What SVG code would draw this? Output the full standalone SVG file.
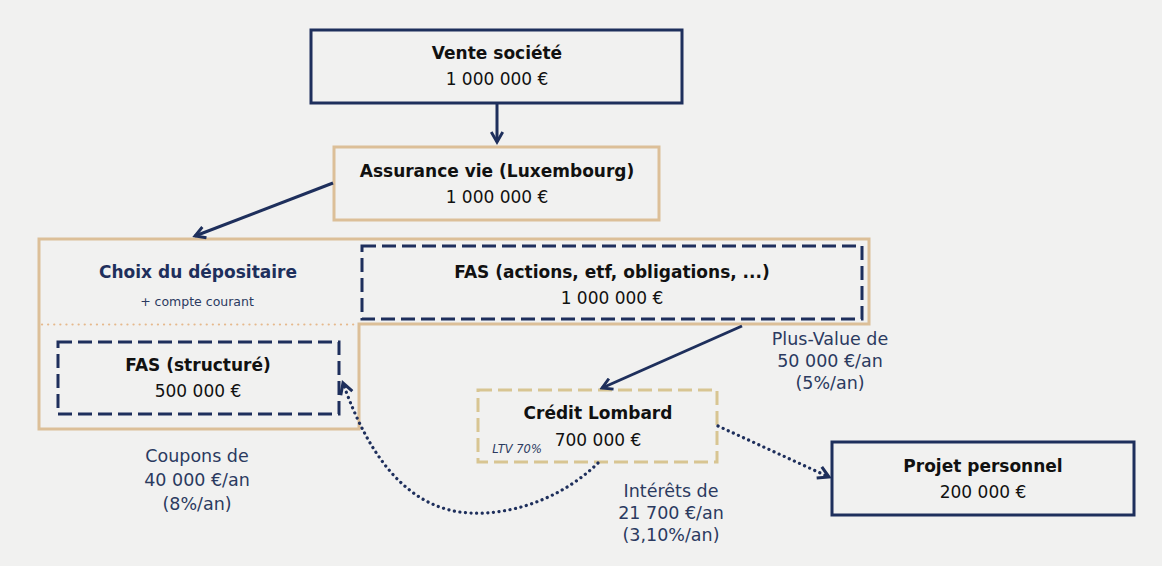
<svg xmlns="http://www.w3.org/2000/svg" width="1162" height="566" viewBox="0 0 1162 566">
<defs>
<style>
.bg{fill:#f1f1f0}
.navy{fill:none;stroke:#1e2f5c;stroke-width:3}
.tan{fill:none;stroke:#dcbf98;stroke-width:3}
.navydash{fill:none;stroke:#1e2f5c;stroke-width:3;stroke-dasharray:14 6}
.golddash{fill:none;stroke:#d8c592;stroke-width:3;stroke-dasharray:14 6}
.t{font-family:"DejaVu Sans","Noto Sans","Liberation Sans",sans-serif;text-anchor:middle}
.b{font-weight:700;font-size:17px;fill:#111}
.v{font-size:17px;fill:#111}
.lab{font-size:17.5px;fill:#2b3a60}
.conn{fill:none;stroke:#1e2f5c;stroke-width:3}
.dot{fill:none;stroke:#1e2f5c;stroke-width:3.2;stroke-dasharray:0.1 5.5;stroke-linecap:round}
</style>
<marker id="arr" viewBox="0 0 10 10" refX="8" refY="5" markerWidth="4.8" markerHeight="4.8" orient="auto" markerUnits="strokeWidth">
<path d="M1,1 L8,5 L1,9" fill="none" stroke="#1e2f5c" stroke-width="2"/>
</marker>
</defs>
<rect class="bg" x="0" y="0" width="1162" height="566"/>

<g id="depositaire">
<path class="tan" d="M39,239 H869 V324 H359 V429 H39 Z"/>
<line x1="42" y1="324.5" x2="354" y2="324.5" stroke="#e6b98c" stroke-width="2.2" stroke-dasharray="0.1 6" stroke-linecap="round"/>
<text class="t" x="198" y="278" font-weight="700" font-size="17" fill="#1e2f5c">Choix du dépositaire</text>
<text class="t" x="197" y="306" font-size="12.5" fill="#2b3a60">+ compte courant</text>
</g>

<g id="vente">
<rect class="navy" x="311" y="30" width="371" height="73"/>
<text class="t b" x="497" y="59">Vente société</text>
<text class="t v" x="497" y="85">1 000 000 €</text>
</g>

<g id="assurance">
<rect class="tan" x="334" y="147" width="325" height="73"/>
<text class="t b" x="497" y="177">Assurance vie (Luxembourg)</text>
<text class="t v" x="497" y="203">1 000 000 €</text>
</g>

<g id="fas-actions">
<rect class="navydash" x="362" y="246" width="500" height="73"/>
<text class="t b" x="612" y="278">FAS (actions, etf, obligations, ...)</text>
<text class="t v" x="612" y="304">1 000 000 €</text>
</g>

<g id="fas-structure">
<rect class="navydash" x="58" y="342" width="281" height="72"/>
<text class="t b" x="198" y="371">FAS (structuré)</text>
<text class="t v" x="198" y="397">500 000 €</text>
</g>

<g id="credit-lombard">
<rect class="golddash" x="478" y="390" width="239" height="72"/>
<text class="t b" x="598" y="419">Crédit Lombard</text>
<text class="t v" x="598" y="446">700 000 €</text>
<text class="t" x="517" y="453" font-size="11.5" font-style="italic" fill="#2b3a60">LTV 70%</text>
</g>

<g id="projet">
<rect class="navy" x="832" y="442" width="302" height="73"/>
<text class="t b" x="983" y="472">Projet personnel</text>
<text class="t v" x="983" y="498">200 000 €</text>
</g>

<g id="labels">
<text class="t lab" x="830" y="345">Plus-Value de</text>
<text class="t lab" x="830" y="367">50 000 €/an</text>
<text class="t lab" x="830" y="389">(5%/an)</text>
<text class="t lab" x="197" y="462">Coupons de</text>
<text class="t lab" x="197" y="486">40 000 €/an</text>
<text class="t lab" x="197" y="510">(8%/an)</text>
<text class="t lab" x="671" y="497">Intérêts de</text>
<text class="t lab" x="671" y="519">21 700 €/an</text>
<text class="t lab" x="671" y="541">(3,10%/an)</text>
</g>

<g id="connectors">
<line class="conn" x1="497" y1="103" x2="497" y2="142" marker-end="url(#arr)"/>
<line class="conn" x1="333" y1="183" x2="195" y2="236" marker-end="url(#arr)"/>
<line class="conn" x1="742" y1="326" x2="602" y2="388" marker-end="url(#arr)"/>
<path class="dot" d="M598,463 C560,500 510,515 470,513 C410,510 370,460 343,383" marker-end="url(#arr)"/>
<path class="dot" d="M718,426 L829,477" marker-end="url(#arr)"/>
</g>
</svg>
